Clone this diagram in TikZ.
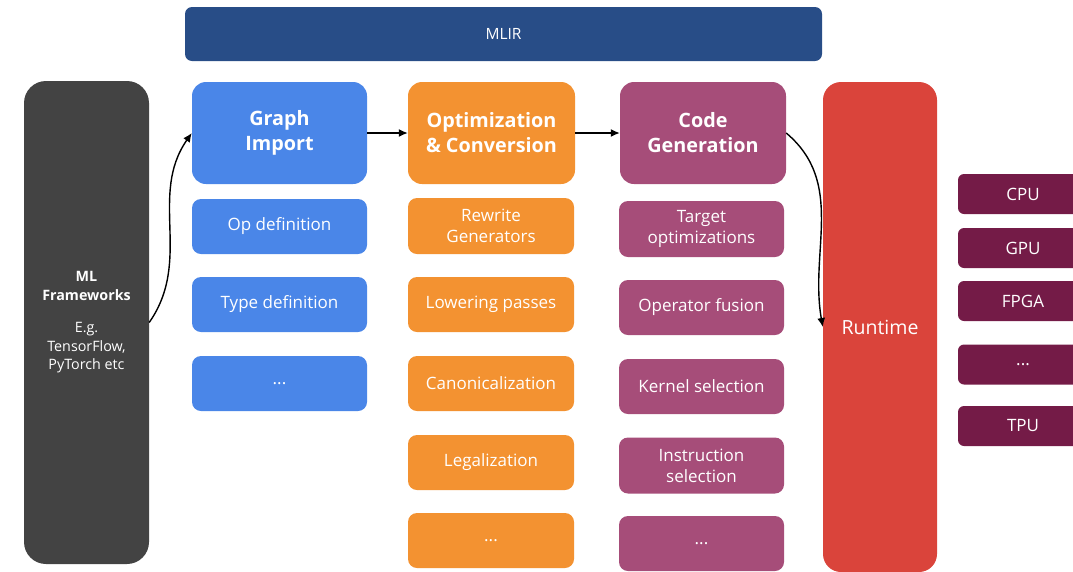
\documentclass[tikz,border=0pt]{standalone}
\usepackage{fontspec}
\setmainfont{Open Sans}
\usepackage{xcolor}
\usepackage{tikz}
\usetikzlibrary{arrows.meta, positioning}
\definecolor{mlirblue}{HTML}{284D87}
\definecolor{frameworkgray}{HTML}{434343}
\definecolor{importblue}{HTML}{4A86E8}
\definecolor{optorange}{HTML}{F39231}
\definecolor{codegenpurple}{HTML}{A64D79}
\definecolor{runtimered}{HTML}{DA443B}
\definecolor{targetplum}{HTML}{741B47}

\begin{document}
\begin{tikzpicture}[x=1pt, y=-1pt,
    box/.style={rounded corners=9pt, text=white, align=center, inner sep=0pt,
        font=\fontsize{17}{21}\selectfont},
    stage/.style={box, rounded corners=14pt, minimum height=102pt,
        font=\bfseries\fontsize{19.8}{25}\selectfont},
    pass/.style={box, minimum height=55pt},
    target/.style={box, rounded corners=6pt, minimum width=130pt, minimum height=40pt,
        fill=targetplum, font=\fontsize{17}{18}\selectfont},
    flow/.style={line width=1.4pt, -{Latex[length=9pt, width=8pt]}}]
    \clip (0, 0) rectangle (1073, 571);

    \node[box, fill=mlirblue, rounded corners=7pt, minimum width=637pt, minimum height=54pt,
        font=\fontsize{15.5}{18}\selectfont] (mlir) at (503.5, 34) {MLIR};

    \node[box, fill=frameworkgray, rounded corners=22pt, minimum width=125pt, minimum height=483pt,
        font=\fontsize{14.3}{18.5}\selectfont] (mlf) at (86.5, 322.5)
        {\textbf{ML}\\\textbf{Frameworks}\\[14pt]E.g.\\TensorFlow,\\PyTorch etc};

    % graph import column
    \node[stage, fill=importblue, minimum width=175pt] (gimp) at (279.5, 133) {Graph\\Import};
    \node[pass, fill=importblue, minimum width=175pt] (opdef) at (279.5, 226.5) {Op definition};
    \node[pass, fill=importblue, minimum width=175pt] (typedef) at (279.5, 304.5) {Type definition};
    \node[pass, fill=importblue, minimum width=175pt] (gmore) at (279.5, 383.5) {...};

    % optimization column
    \node[stage, fill=optorange, minimum width=167pt] (opt) at (491.5, 133) {Optimization\\\& Conversion};
    \node[pass, fill=optorange, minimum width=166pt, minimum height=56pt] (rewrite) at (491, 226) {Rewrite\\Generators};
    \node[pass, fill=optorange, minimum width=166pt] (lower) at (491, 304.5) {Lowering passes};
    \node[pass, fill=optorange, minimum width=166pt] (canon) at (491, 383.5) {Canonicalization};
    \node[pass, fill=optorange, minimum width=166pt] (legal) at (491, 462.5) {Legalization};
    \node[pass, fill=optorange, minimum width=166pt] (omore) at (491, 540.5) {...};

    % code generation column
    \node[stage, fill=codegenpurple, minimum width=166pt] (cgen) at (703, 133) {Code\\Generation};
    \node[pass, fill=codegenpurple, minimum width=165pt, minimum height=56pt] (tgtopt) at (701.5, 229) {Target\\optimizations};
    \node[pass, fill=codegenpurple, minimum width=165pt] (fusion) at (701.5, 307.5) {Operator fusion};
    \node[pass, fill=codegenpurple, minimum width=165pt] (kernel) at (701.5, 386.5) {Kernel selection};
    \node[pass, fill=codegenpurple, minimum width=165pt, minimum height=56pt] (instr) at (701.5, 465.5) {Instruction\\selection};
    \node[pass, fill=codegenpurple, minimum width=165pt] (cmore) at (701.5, 543.5) {...};

    \node[box, fill=runtimered, rounded corners=18pt, minimum width=114pt, minimum height=490pt,
        font=\fontsize{19.5}{22}\selectfont] (runtime) at (880, 327) {Runtime};

    % hardware targets
    \node[target] (cpu) at (1023, 194) {CPU};
    \node[target] (gpu) at (1023, 248) {GPU};
    \node[target] (fpga) at (1023, 301) {FPGA};
    \node[target] (hmore) at (1023, 364.5) {...};
    \node[target] (tpu) at (1023, 426) {TPU};

    \draw[flow] (mlf.east) to[out=55, in=235] (gimp.west);
    \draw[flow] (gimp) -- (opt);
    \draw[flow] (opt) -- (cgen);
    \draw[flow] (cgen.east) to[out=-40, in=100] (runtime.west);
\end{tikzpicture}
\end{document}
